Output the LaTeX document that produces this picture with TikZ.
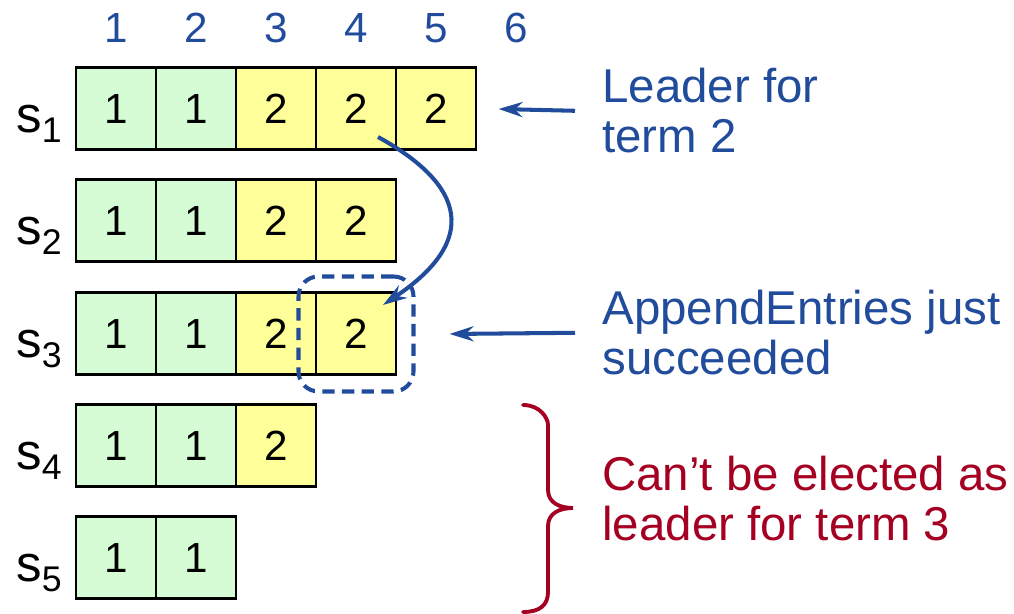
\documentclass[tikz,border=0pt]{standalone}
\usepackage{fontspec}
\setmainfont{Liberation Sans}
\usetikzlibrary{arrows.meta, fit}

\definecolor{ink}{RGB}{33,75,155}
\definecolor{alert}{RGB}{165,0,33}
\definecolor{termone}{RGB}{214,252,214}
\definecolor{termtwo}{RGB}{255,255,153}

\begin{document}
\begin{tikzpicture}[node distance=1.6cm]
    \tikzstyle{entry} = [rectangle, minimum width=1.6cm, minimum height=1.64cm, draw=black, line width=1.7pt, text centered, font=\fontsize{24}{26}\selectfont]
    \tikzstyle{old} = [entry, fill=termone]
    \tikzstyle{new} = [entry, fill=termtwo]
    \tikzstyle{index} = [text=ink, font=\fontsize{24}{26}\selectfont]
    \tikzstyle{server} = [anchor=base west, inner sep=0pt, font=\fontsize{29}{30}\selectfont]
    \tikzstyle{note} = [anchor=north west, inner sep=0pt, align=left, font=\fontsize{27}{28.5}\selectfont]
    \tikzstyle{ptr} = [-{Stealth[length=0.48cm, width=0.3cm]}, draw=ink, line width=2.3pt]
    \tikzstyle{curly} = [draw=alert, line width=2.2pt, line cap=round]

    \useasboundingbox (0,0) rectangle (20.28,12.28);

    % Log indexes
    \node [index] (i1) at (2.32,11.72) {1};
    \node [index, right of=i1] (i2) {2};
    \node [index, right of=i2] (i3) {3};
    \node [index, right of=i3] (i4) {4};
    \node [index, right of=i4] (i5) {5};
    \node [index, right of=i5] (i6) {6};

    % Server s1
    \node [old] (c11) at (2.32,10.10) {1};
    \node [old, right of=c11] (c12) {1};
    \node [new, right of=c12] (c13) {2};
    \node [new, right of=c13] (c14) {2};
    \node [new, right of=c14] (c15) {2};

    % Server s2
    \node [old] (c21) at (2.32,7.86) {1};
    \node [old, right of=c21] (c22) {1};
    \node [new, right of=c22] (c23) {2};
    \node [new, right of=c23] (c24) {2};

    % Server s3
    \node [old] (c31) at (2.32,5.60) {1};
    \node [old, right of=c31] (c32) {1};
    \node [new, right of=c32] (c33) {2};
    \node [new, right of=c33] (c34) {2};

    % Server s4
    \node [old] (c41) at (2.32,3.36) {1};
    \node [old, right of=c41] (c42) {1};
    \node [new, right of=c42] (c43) {2};

    % Server s5
    \node [old] (c51) at (2.32,1.12) {1};
    \node [old, right of=c51] (c52) {1};

    % Server names
    \node [server] (s1) at (0.32,9.62) {s\textsubscript{1}};
    \node [server] (s2) at (0.32,7.38) {s\textsubscript{2}};
    \node [server] (s3) at (0.32,5.12) {s\textsubscript{3}};
    \node [server] (s4) at (0.32,2.88) {s\textsubscript{4}};
    \node [server] (s5) at (0.32,0.64) {s\textsubscript{5}};

    % Notes
    \node [note, text=ink] (lead) at (12.04,10.92) {Leader for\\term 2};
    \node [note, text=ink] (append) at (12.04,6.48) {AppendEntries just\\succeeded};
    \node [note, text=alert] (vote) at (12.04,3.16) {Can’t be elected as\\leader for term 3};

    % Replicated entry
    \node [draw=ink, line width=2.3pt, dash pattern=on 7pt off 4.2pt, rounded corners=0.4cm, inner xsep=0.32cm, inner ysep=0.3cm, fit=(c34)] (sent) {};
    \coordinate (from) at ([shift={(0.44,-0.56)}]c14.center);
    \coordinate (to) at ([shift={(0.54,0.58)}]c34.center);
    \draw [ptr] (from) .. controls +(1.74,-0.96) and +(1.94,1.30) .. (to);

    % Pointers
    \draw [ptr] ([xshift=-0.54cm]lead.west) -- ([xshift=0.42cm]c15.east);
    \draw [ptr] ([xshift=-0.54cm]append.west) -- ([xshift=0.68cm]sent.east);

    % Brace
    \coordinate (btop) at (10.46,4.18);
    \coordinate (bbot) at (10.46,0.04);
    \draw [curly] (btop) .. controls +(0.34,0) and +(0,0.14) .. ++(0.5,-0.4) -- ++(0,-1.3)
        .. controls +(0,-0.26) and +(-0.26,0) .. ++(0.5,-0.36)
        .. controls +(-0.26,0) and +(0,0.26) .. ++(-0.5,-0.36) -- ++(0,-1.32)
        .. controls +(0,-0.26) and +(0.34,0) .. (bbot);
\end{tikzpicture}
\end{document}
